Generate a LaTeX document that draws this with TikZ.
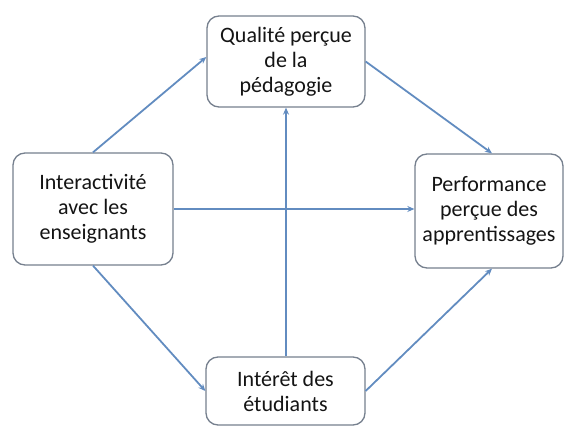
\documentclass[tikz,border=0pt]{standalone}
\usepackage{fontspec}
\setmainfont{Carlito}
\usetikzlibrary{arrows.meta}
\definecolor{linkblue}{RGB}{98,140,192}
\definecolor{boxgray}{RGB}{118,128,142}
\definecolor{txt}{RGB}{20,20,20}
\tikzset{
  box/.style={draw=boxgray, line width=1.3pt, rounded corners=12pt, fill=white,
    align=center, inner sep=0pt, text=txt, font=\fontsize{22}{25}\selectfont},
  link/.style={draw=linkblue, line width=1.8pt, -{Stealth[length=7pt,width=6pt]}}
}
\begin{document}
\begin{tikzpicture}[x=1pt,y=-1pt]
\useasboundingbox (0,0) rectangle (565,427);
\node[box, minimum width=158pt, minimum height=91pt] (T) at (286,61.5) {Qualité perçue\\de la\\pédagogie};
\node[box, minimum width=160pt, minimum height=112pt] (L) at (93,209) {Interactivité\\avec les\\enseignants};
\node[box, minimum width=148pt, minimum height=114pt] (R) at (489,211) {Performance\\perçue des\\apprentissages};
\node[box, minimum width=159pt, minimum height=68pt] (B) at (285.5,391) {Intérêt des\\étudiants};
\draw[link] (L.north) -- ([yshift=4.5pt]T.west);
\draw[link] (L.south) -- (B.west);
\draw[link] (L.east) -- (L.east -| R.west);
\draw[link] (B.north -| T.south) -- (T.south);
\draw[link] (T.east) -- ([xshift=3pt]R.north);
\draw[link] (B.east) -- ([xshift=3pt]R.south);
\end{tikzpicture}
\end{document}
